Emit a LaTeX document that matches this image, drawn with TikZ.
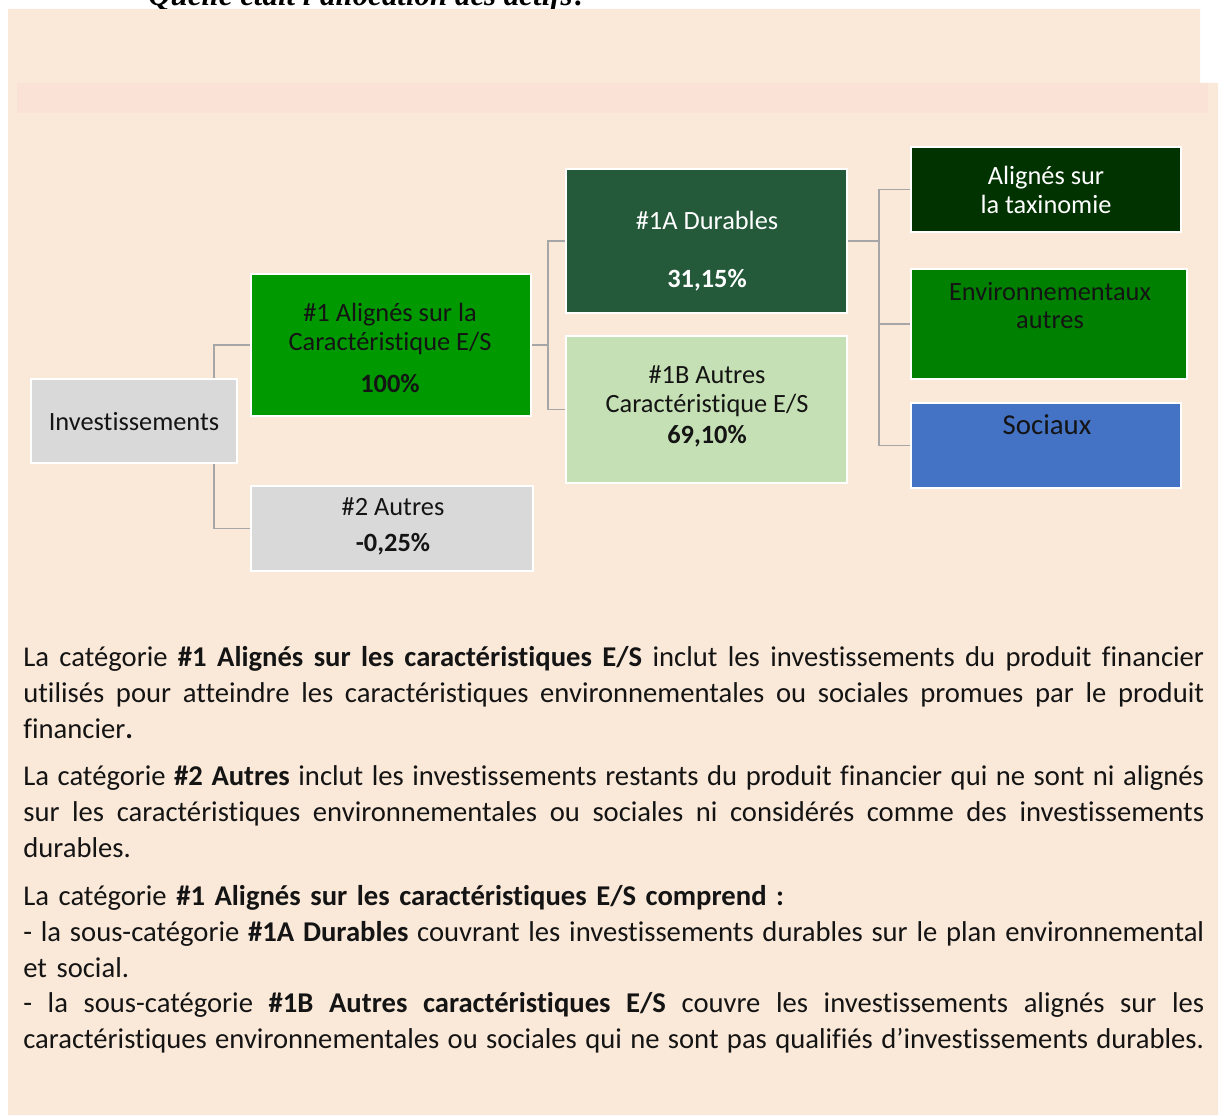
\documentclass[tikz,border=0pt]{standalone}
\usepackage{fontspec}
\setmainfont{Carlito}[Ligatures=NoCommon]
\newfontfamily\titlefont{Liberation Serif}
\usetikzlibrary{positioning}
\definecolor{peach}{HTML}{FAE8D8}
\definecolor{rose}{HTML}{FBE2D6}
\definecolor{greybox}{HTML}{D9D9D9}
\definecolor{leaf}{HTML}{009900}
\definecolor{forest}{HTML}{245A3A}
\definecolor{mint}{HTML}{C5E0B4}
\definecolor{pine}{HTML}{003300}
\definecolor{grass}{HTML}{008000}
\definecolor{socblue}{HTML}{4472C4}
\definecolor{link}{HTML}{A6A6A6}
\definecolor{ink}{HTML}{141414}
\newcommand\fullline[1]{{\spaceskip=0.226em plus 1em minus 0.12em\makebox[23.62cm][s]{#1}}}

\begin{document}
\begin{tikzpicture}[x=0.02cm,y=-0.02cm,
 box/.style={draw=white,line width=1.4pt,inner sep=0pt},
 lbl/.style={align=center,inner sep=0pt,text=ink,font=\fontsize{15}{16.4}\selectfont},
 lnk/.style={draw=link,line width=0.9pt}]
\useasboundingbox (0,0) rectangle (1226,1115);
\fill[peach] (8,9) -- (1200,9) -- (1200,83) -- (1218,83) -- (1218,1115) -- (8,1115) -- cycle;
\fill[rose] (17,83) rectangle (1208,113);
\begin{scope}
\clip (0,0) rectangle (1226,9);
\node[anchor=base west,inner sep=0pt,font=\titlefont\bfseries\itshape\fontsize{17.6}{20}\selectfont] (title) at (148,6) {Quelle était l'allocation des actifs?};
\end{scope}
% boxes
\node[box,fill=greybox,minimum width=4.12cm,minimum height=1.68cm] (inv) at (134,421) {};
\node[box,fill=leaf,minimum width=5.6cm,minimum height=2.84cm] (al) at (391,345) {};
\node[box,fill=greybox,minimum width=5.64cm,minimum height=1.7cm] (oth) at (392,528.5) {};
\node[box,fill=forest,minimum width=5.62cm,minimum height=2.88cm] (dur) at (706.5,241) {};
\node[box,fill=mint,minimum width=5.62cm,minimum height=2.94cm] (aut) at (706.5,409.5) {};
\node[box,fill=pine,minimum width=5.4cm,minimum height=1.7cm] (tax) at (1046,189.5) {};
\node[box,fill=grass,minimum width=5.52cm,minimum height=2.2cm] (env) at (1049,324) {};
\node[box,fill=socblue,minimum width=5.4cm,minimum height=1.7cm] (soc) at (1046,445.5) {};
% texts
\node[lbl] (invt) at (134,422) {Investissements};
\node[lbl] (alt) at (390,348) {\#1 Alignés sur la\\Caractéristique E/S\\[8pt]\textbf{100\%}};
\node[lbl] (otht) at (393,526.5) {\#2 Autres\\[4.5pt]\textbf{-0,25\%}};
\node[lbl,text=white] (durt) at (707,251) {\#1A Durables\\[16.4pt]\textbf{31,15\%}};
\node[lbl] (autt) at (707,406.5) {\#1B Autres\\Caractéristique E/S\\[1.7pt]\textbf{69,10\%}};
\node[lbl,text=white] (taxt) at (1046,190) {Alignés sur\\la taxinomie};
\node[lbl] (envt) at (1050,305.5) {Environnementaux\\autres};
\node[lbl,font=\fontsize{16.4}{18}\selectfont] (soct) at (1047,425) {Sociaux};
% connectors
\coordinate (j1) at (214,0);
\coordinate (j2) at (548,0);
\coordinate (j3) at (879,0);
\draw[lnk] (inv.north -| j1) |- (al.west);
\draw[lnk] (inv.south -| j1) |- (oth.west);
\draw[lnk] (al.east) -- (al.east -| j2);
\draw[lnk] (dur.west) -| (j2 |- aut.west) -- (aut.west);
\draw[lnk] (dur.east) -- (dur.east -| j3);
\draw[lnk] (tax.west) -| (j3 |- soc.west) -- (soc.west);
\draw[lnk] (env.west) -- (env.west -| j3);
% notes
\node[anchor=north west,inner sep=0pt,text width=23.62cm,align=left,text=ink,
 font=\fontsize{16.3}{20.4}\selectfont] (notes) at (23,646) {%
\fullline{La catégorie \textbf{\#1 Alignés sur les caractéristiques E/S} inclut les investissements du produit financier}\\
\fullline{utilisés pour atteindre les caractéristiques environnementales ou sociales promues par le produit}\\
financier\textbf{.}\\[6.8pt]
\fullline{La catégorie \textbf{\#2 Autres} inclut les investissements restants du produit financier qui ne sont ni alignés}\\
\fullline{sur les caractéristiques environnementales ou sociales ni considérés comme des investissements}\\
durables.\\[6.8pt]
La catégorie \textbf{\#1 Alignés sur les caractéristiques E/S comprend :}\\
\fullline{- la sous-catégorie \textbf{\#1A Durables} couvrant les investissements durables sur le plan environnemental}\\
et social.\\
\fullline{- la sous-catégorie \textbf{\#1B Autres caractéristiques E/S} couvre les investissements alignés sur les}\\
\fullline{caractéristiques environnementales ou sociales qui ne sont pas qualifiés d'investissements durables.}};
\end{tikzpicture}
\end{document}
